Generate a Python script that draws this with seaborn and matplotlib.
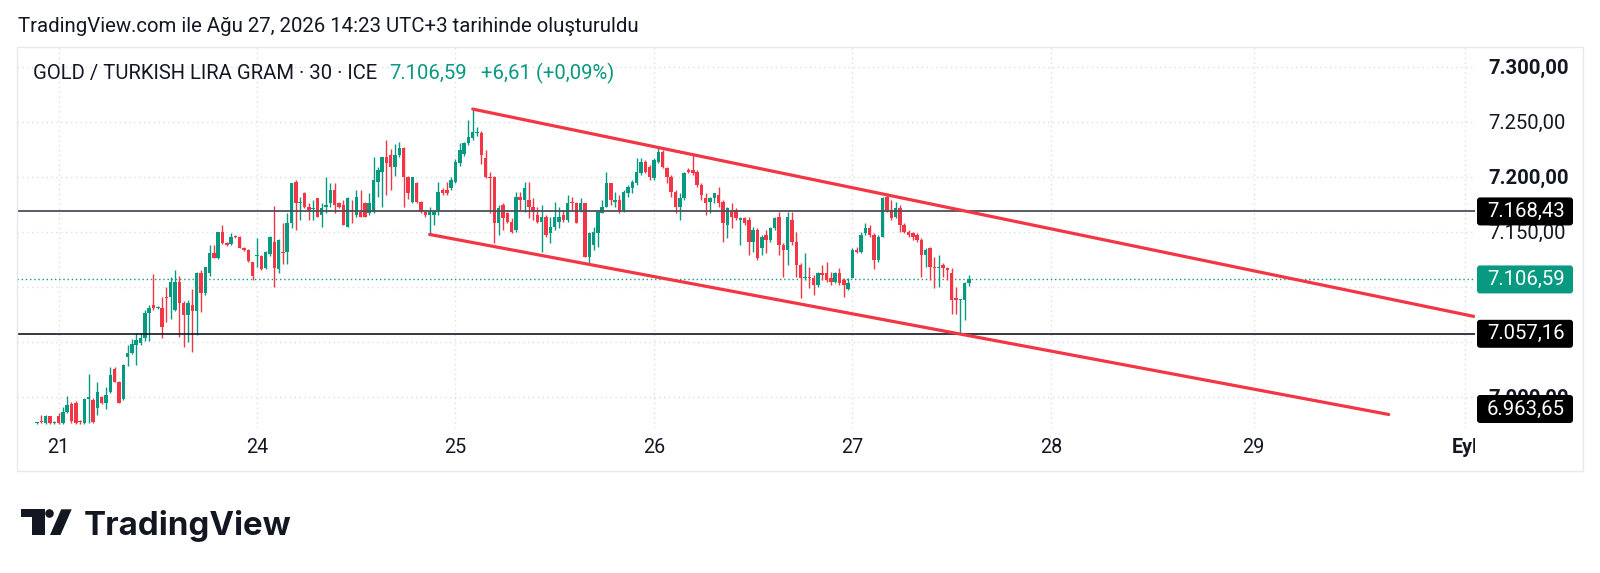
import matplotlib
matplotlib.use("Agg")
import matplotlib.pyplot as plt
from matplotlib.patches import Rectangle, FancyBboxPatch, Circle, Polygon
from matplotlib.transforms import Affine2D
import numpy as np
import pandas as pd
import seaborn as sns

# ~~~~~~~~~~~~~~~~~~~~~~~~~~~~~~~~~~~~~~~~~~~~~~~~~~~~~~~~~~~~~~~~~~~~~~~~~~~~~~~
# data: 30 min candles, GOLD / TRY gram
opens = [
    6976, 6977.5, 6976, 6982, 6976, 6982, 6976, 6986, 6993, 6994,
    6978, 6976, 6998, 6997, 6990, 7000, 6994, 7004.5, 7025, 7013.6,
    6998, 7036, 7039.4, 7047, 7048.5, 7053, 7075.8, 7083.3, 7081, 7081,
    7091, 7091, 7079, 7104.5, 7085, 7074, 7083, 7078, 7112, 7094,
    7112, 7131, 7126, 7150, 7140, 7139, 7146, 7145, 7135, 7133,
    7122, 7128, 7128, 7117, 7130, 7141, 7116, 7131.8, 7131.8, 7157.6,
    7195.5, 7175.8, 7184.9, 7172.7, 7171, 7180.3, 7165.2, 7172.7, 7175.8, 7187.9,
    7175.8, 7174.3, 7154.6, 7169.7, 7165.2, 7168, 7175.8, 7166.7, 7168, 7195.5,
    7204.6, 7218.2, 7219.7, 7209.1, 7219.7, 7225.8, 7200, 7177.3, 7194, 7177.3,
    7168.2, 7165.2, 7165.2, 7169.7, 7187.9, 7187.9, 7189.4, 7195.5, 7212.1, 7221,
    7230.3, 7234.9, 7239.4, 7239.4, 7216.7, 7200, 7200, 7157.6, 7174.3, 7166.7,
    7159.1, 7151.5, 7181.9, 7178.8, 7178.8, 7172.8, 7165.2, 7159.1, 7163.7, 7148.5,
    7154.6, 7159.1, 7165.2, 7160.6, 7177.3, 7175.8, 7169.7, 7175.8, 7127.3, 7138,
    7148.5, 7166.7, 7172.8, 7194, 7177.3, 7178.8, 7169.7, 7184.9, 7189.4, 7194,
    7203.1, 7213.7, 7209.1, 7198.5, 7213.7, 7222.8, 7207.6, 7200, 7186.4, 7172.8,
    7180.3, 7206.1, 7206.1, 7204.6, 7192.5, 7180.3, 7177.3, 7180.3, 7183.4, 7177.3,
    7156.1, 7168.2, 7169.7, 7160.7, 7162.2, 7160.7, 7141, 7151.6, 7134.9, 7147,
    7142.5, 7153.1, 7163.7, 7137.9, 7133.4, 7160.7, 7141, 7119.7, 7107.6, 7109.1,
    7107.6, 7101.6, 7112.2, 7112.2, 7107.6, 7104.6, 7112.2, 7106.1, 7097.6, 7107.6,
    7133.4, 7131.9, 7148.5, 7153.1, 7147, 7124.3, 7145.5, 7181.9, 7169.7, 7163.7,
    7171.2, 7156.1, 7150, 7148.5, 7147, 7142.5, 7128.8, 7134.9, 7118.2, 7116.7,
    7119.7, 7116.7, 7112, 7090, 7087.7, 7087.7, 7102.9,
]
highs = [
    6977, 6983, 6983, 6982.5, 6978, 6985, 6991, 7001, 6995, 6996,
    6979, 6999, 7021, 6999, 7013, 7001, 7009, 7027, 7027, 7014,
    7030, 7047, 7052, 7058, 7058, 7079, 7083, 7111.5, 7082, 7091,
    7100, 7109, 7115, 7110, 7087, 7088, 7098, 7113, 7115, 7118,
    7138, 7138, 7150, 7156, 7141, 7149, 7147, 7146, 7136, 7134,
    7122, 7144, 7129, 7132, 7146, 7173, 7143, 7157.6, 7166.7, 7194,
    7197, 7181.8, 7186, 7175.8, 7178.8, 7180.3, 7175.8, 7200, 7194, 7194,
    7177, 7178.8, 7181.8, 7178.8, 7188, 7187.9, 7177, 7184.9, 7218.2, 7209.1,
    7213.6, 7233.3, 7225, 7230, 7231.8, 7227, 7201, 7200, 7195, 7178,
    7169, 7172.7, 7170, 7195.5, 7190, 7195.5, 7200, 7216, 7230.3, 7232,
    7251.5, 7261, 7245, 7242, 7224.3, 7204.6, 7201, 7174.3, 7175.8, 7168,
    7162.2, 7186.4, 7186.4, 7195.5, 7195.5, 7180.3, 7172.8, 7174.3, 7165.2, 7163.7,
    7177.3, 7172.8, 7169.7, 7183.4, 7181.9, 7177.3, 7180.3, 7176, 7150, 7154.6,
    7169.7, 7178.8, 7204.6, 7194.5, 7186.4, 7183.4, 7187.9, 7192.5, 7197, 7216.7,
    7216.7, 7215.2, 7210.6, 7216.7, 7225.8, 7224.3, 7209.1, 7201.5, 7187.9, 7184.9,
    7204.6, 7207.6, 7219.7, 7206.1, 7194, 7184.9, 7181.9, 7184.9, 7191, 7178.8,
    7172.8, 7175.8, 7171.2, 7163.7, 7163, 7163.7, 7154.6, 7153.1, 7147, 7151.6,
    7154.6, 7163.7, 7168.2, 7139.4, 7168.2, 7168.2, 7150, 7121.2, 7130.4, 7118.2,
    7110.7, 7113.7, 7119.7, 7122.8, 7113.7, 7113.7, 7116.7, 7107.6, 7107.6, 7134.9,
    7136.4, 7150, 7157.6, 7156.1, 7148.5, 7147, 7181.9, 7183.4, 7178.8, 7177.3,
    7174, 7157.6, 7151.6, 7150, 7148.5, 7144, 7134.9, 7136.4, 7127.3, 7128.8,
    7121.2, 7118.2, 7116.6, 7100, 7089, 7104.5, 7111,
]
lows = [
    6975.5, 6976, 6975.5, 6975.5, 6975, 6975.5, 6975, 6985, 6976, 6975.5,
    6975, 6975.5, 6976, 6976, 6983, 6993, 6989, 7003, 7013, 6994,
    6997, 7028, 7039, 7029, 7047, 7051, 7051, 7079, 7080, 7053,
    7068, 7071, 7078, 7054.5, 7045, 7050, 7041, 7056, 7077, 7092,
    7109.5, 7126, 7125, 7139, 7137, 7138, 7144, 7135, 7132, 7122,
    7106, 7118, 7115, 7116, 7128, 7100, 7112, 7121, 7121, 7153,
    7151.5, 7160.6, 7172, 7160.6, 7160.6, 7163.6, 7154.6, 7166.7, 7172.7, 7166.7,
    7172, 7156, 7154.6, 7157.6, 7163.6, 7163.6, 7163.6, 7165.2, 7166.7, 7181.8,
    7172.7, 7183.4, 7188, 7201, 7218, 7172.7, 7180, 7175.8, 7175.8, 7166.7,
    7163, 7148.5, 7156, 7165.2, 7183, 7183, 7188, 7194, 7210, 7219,
    7229, 7233, 7237, 7212, 7198.5, 7166.7, 7139.4, 7147, 7151.5, 7158,
    7148.5, 7150, 7170, 7168.2, 7162.2, 7160.6, 7157.6, 7131.9, 7145.5, 7139.4,
    7151.5, 7153.1, 7159.1, 7159.1, 7169.7, 7157.6, 7168.2, 7127.3, 7121.2, 7133.4,
    7136.4, 7166.7, 7172.8, 7174.3, 7172.8, 7166.7, 7168.2, 7181.9, 7184.9, 7192.5,
    7201.5, 7203.1, 7197, 7197, 7212.2, 7207.6, 7194, 7181.9, 7166.7, 7160.6,
    7178.8, 7203.1, 7202, 7191, 7178.8, 7165.2, 7166.7, 7175.8, 7172.8, 7141,
    7144, 7153.1, 7160.7, 7137.9, 7156.1, 7128.8, 7131.9, 7124.3, 7128.8, 7130.4,
    7141, 7151.6, 7128.8, 7109.1, 7119.7, 7137.9, 7109.1, 7089.4, 7106.1, 7098.5,
    7092.5, 7100, 7106.1, 7104.6, 7101.6, 7103.1, 7101.6, 7091, 7097, 7107.6,
    7130.4, 7130.4, 7147, 7145.5, 7115.8, 7122.8, 7145.5, 7168.2, 7160.7, 7162.2,
    7150, 7148.5, 7145.5, 7142.5, 7141, 7109.1, 7118.2, 7106.1, 7098.5, 7100,
    7109.1, 7106.1, 7075.5, 7075.5, 7057.2, 7069.4, 7101,
]
closes = [
    6976.5, 6977, 6982, 6976, 6977, 6976, 6986.5, 6992, 6978, 6976,
    6977, 6997.5, 7000, 6977, 7004.5, 6994, 7001.5, 7019.7, 7013.6, 6994.5,
    7028.8, 7039.4, 7047.9, 7051.5, 7053, 7075.8, 7080.3, 7080.3, 7081.5, 7063.6,
    7089.5, 7104.5, 7104.5, 7085, 7074, 7085, 7078, 7112, 7094, 7118,
    7130.5, 7126, 7150, 7140, 7138, 7145, 7145, 7135, 7133, 7123,
    7109.5, 7129, 7116.5, 7131.5, 7145, 7117, 7142, 7130.3, 7157.6, 7194,
    7175.8, 7176, 7172.7, 7169.7, 7171.5, 7163.6, 7171.2, 7174.3, 7187.9, 7174.3,
    7172.7, 7156, 7180.3, 7169, 7181.8, 7163.6, 7163.6, 7175.8, 7197, 7206.1,
    7218.2, 7212.1, 7209.1, 7219.7, 7225.8, 7200, 7184.9, 7200, 7177.3, 7168.2,
    7165, 7168.2, 7168.2, 7186.4, 7184.9, 7184.9, 7197, 7213.6, 7224.3, 7230.3,
    7236.4, 7240.9, 7240.9, 7219.7, 7200, 7198.5, 7157.6, 7171.2, 7162.2, 7159.1,
    7150, 7181.9, 7178.8, 7189.4, 7172.8, 7168.2, 7159.1, 7163.7, 7147, 7154.6,
    7163.7, 7163.7, 7160.6, 7175.8, 7175.8, 7157.6, 7175.8, 7127.3, 7148.5, 7150,
    7168.2, 7172.8, 7194, 7178.8, 7178.8, 7169.7, 7186.4, 7191, 7195.5, 7204.6,
    7213.7, 7204.6, 7200, 7215.2, 7222.8, 7209.1, 7200, 7186.4, 7172.8, 7180.3,
    7203.1, 7204.6, 7203.1, 7192.5, 7183.4, 7175.8, 7180.3, 7184.9, 7175.8, 7157.6,
    7171.2, 7163.7, 7162.2, 7162.2, 7157.6, 7141, 7151.6, 7125.8, 7145.5, 7142.5,
    7153.1, 7162.2, 7137.9, 7133.4, 7163.7, 7141, 7119.7, 7107.6, 7109.1, 7107.6,
    7101.6, 7112.2, 7110.7, 7106.1, 7104.6, 7112.2, 7103.1, 7101.6, 7103.1, 7133.4,
    7131.9, 7147, 7153.1, 7147, 7124.3, 7145.5, 7180.3, 7169.7, 7162.2, 7171.2,
    7156.1, 7150, 7147, 7145.5, 7142.5, 7128.8, 7133.4, 7118.2, 7116.7, 7118.2,
    7116.7, 7115.2, 7087.7, 7087.7, 7088.4, 7102.9, 7106.59,
]

# time scale: bar index of the first candle of each labelled day
day_labels = ['21', '24', '25', '26', '27', '28', '29', 'Eyl']
day_first_bar = [5, 51, 97, 143, 189, 235, 282, 331]

price_ticks = [7000, 7050, 7100, 7150, 7200, 7250, 7300]
price_tick_labels = ['7.000,00', '', '', '7.150,00', '7.200,00', '7.250,00', '7.300,00']

# drawings
upper_bars = [101, 333]
upper_prices = [7261.5, 7073.0]
lower_bars = [91, 313.3]
lower_prices = [7147.5, 6983.8]
level_prices = [7168.43, 7057.16]
level_texts = ['7.168,43', '7.057,16']
last_price = 7106.59
last_text = '7.106,59'
lower_end_text = '6.963,65'
lower_end_price = 6963.65

title = 'TradingView.com ile Ağu 27, 2026 14:23 UTC+3 tarihinde oluşturuldu'
symbol = 'GOLD / TURKISH LIRA GRAM · 30 · ICE'
change_text = '+6,61 (+0,09%)'

#~~~~~~~~~~~~~~~~~~~~~~~~~~~~~~~~~~~~~~~~~~~~~~~~~~~~~~~~~~~~~~~~~~~~~~~~~~~~~~~~
GREEN = '#089981'
RED = '#f23645'
INK = '#131722'
GRID = '#dcdfe7'
AXIS_FS = 14.6

sns.set_theme(style='white')
plt.rcParams['font.family'] = ['Roboto', 'DejaVu Sans']

W, H = 1600, 573
fig = plt.figure(figsize=(W / 100, H / 100), dpi=100, facecolor='white')
px = Affine2D().scale(1 / W, -1 / H).translate(0, 1) + fig.transFigure

# chart pane in pixels
PL, PT, PR, PB = 17, 46.5, 1475, 428
Y_TOP, Y_BOT = 7318.4, 6971.5
X_LEFT, X_RIGHT = -4.63, 333.3
per_unit = (PB - PT) / (Y_TOP - Y_BOT)

ax = fig.add_axes([PL / W, 1 - PB / H, (PR - PL) / W, (PB - PT) / H])
ax.set_facecolor('white')

df = pd.DataFrame({'o': opens, 'h': highs, 'l': lows, 'c': closes})
df['bar'] = np.arange(len(df))
colors = np.where(df.c >= df.o, GREEN, RED)
body_lo = np.minimum(df.o, df.c)
body_h = np.maximum((df.c - df.o).abs(), 0.9)
ax.vlines(df.bar, df.l, df.h, colors=colors, linewidth=1.0, zorder=3)
ax.bar(df.bar, body_h, bottom=body_lo, width=0.8, color=colors, linewidth=0, zorder=4)

# channel lines
chan = pd.DataFrame({
    'bar': upper_bars + lower_bars,
    'price': upper_prices + lower_prices,
    'line': ['upper', 'upper', 'lower', 'lower'],
})
sns.lineplot(data=chan, x='bar', y='price', units='line', estimator=None,
             color=RED, linewidth=2.3, ax=ax, legend=False, zorder=6)

ax.axhline(level_prices[0], color='#4c4f59', linewidth=1.3, zorder=5)
ax.axhline(level_prices[1], color=INK, linewidth=1.2, zorder=5)
ax.axhline(last_price, color=GREEN, linewidth=1.0, linestyle=(0, (1, 2)), zorder=2)

ax.set_xlim(X_LEFT, X_RIGHT)
ax.set_ylim(Y_BOT, Y_TOP)
ax.set_xlabel('')
ax.set_ylabel('')
for s in ax.spines.values():
    s.set_visible(False)

ax.set_xticks(day_first_bar)
ax.set_xticklabels(day_labels)
ax.set_yticks(price_ticks)
ax.set_yticklabels(price_tick_labels)
ax.yaxis.tick_right()
ax.tick_params(axis='y', length=0, pad=9.4, labelsize=AXIS_FS, labelcolor=INK)
ax.tick_params(axis='x', length=0, pad=7.5, labelsize=14.2, labelcolor=INK)
ax.set_axisbelow(True)
ax.grid(True, color=GRID, linestyle=(0, (1, 2.5)), linewidth=1.0)

for lbl, v in zip(ax.get_yticklabels(), price_ticks):
    if v % 100 == 0:
        lbl.set_fontweight('bold')
clip_rect = Rectangle((PL, 0), PR - PL, H, transform=px)
for lbl, t in zip(ax.get_xticklabels(), day_labels):
    if not t.isdigit():
        lbl.set_fontweight('bold')
    lbl.set_clip_path(clip_rect)

# price scale boxes
pax = fig.add_axes([PR / W, 1 - PB / H, (1583 - PR) / W, (PB - PT) / H], sharey=ax)
pax.set_xlim(0, 108)
pax.axis('off')
box_h = 28 / per_unit
marks = [
    (level_texts[0], level_prices[0], 'black'),
    (last_text, last_price, GREEN),
    (level_texts[1], level_prices[1], 'black'),
    (lower_end_text, lower_end_price, 'black'),
]
for txt, val, col in marks:
    yc = max(val, Y_BOT + box_h / 2 + 5 / per_unit)
    pax.add_patch(FancyBboxPatch((2, yc - box_h / 2), 96, box_h,
                                 boxstyle='round,pad=0,rounding_size=3',
                                 mutation_aspect=1 / per_unit,
                                 fc=col, ec='none', clip_on=False, zorder=5))
    pax.text(12, yc, txt, color='white', fontsize=AXIS_FS, va='center', ha='left',
             zorder=6, clip_on=False)

# frame, header, legend
fig.add_artist(Rectangle((17, 46.5), 1566, 424.5, transform=px, fill=False,
                         ec='#e6e8ee', lw=1.0))
fig.text(18 / W, 1 - 26 / H, title, fontsize=14.65, color=INK, va='center', ha='left')
fig.text(33 / W, 1 - 73 / H, symbol, fontsize=14.6, color=INK, va='center', ha='left')
fig.text(389 / W, 1 - 73 / H, last_text, fontsize=14.6, color=GREEN, va='center', ha='left')
fig.text(481 / W, 1 - 73 / H, change_text, fontsize=14.6, color=GREEN, va='center', ha='left')

# TradingView logo
fig.add_artist(Polygon([(20.7, 509.3), (45, 509.3), (45, 535), (31.7, 535),
                        (31.7, 517.3), (20.7, 517.3)], closed=True, transform=px,
                       fc=INK, ec='none'))
fig.add_artist(Circle((49.5, 513.5), 4.3, transform=px, fc=INK, ec='none'))
fig.add_artist(Polygon([(50, 535), (60.5, 535), (71.7, 509.3), (61.2, 509.3)],
                       closed=True, transform=px, fc=INK, ec='none'))
fig.text(84 / W, 1 - 535 / H, 'TradingView', fontsize=23.8, fontweight='bold',
         color=INK, va='baseline', ha='left', family=['Inter', 'Roboto', 'DejaVu Sans'])

fig.savefig('out.png', dpi=100, facecolor='white')
